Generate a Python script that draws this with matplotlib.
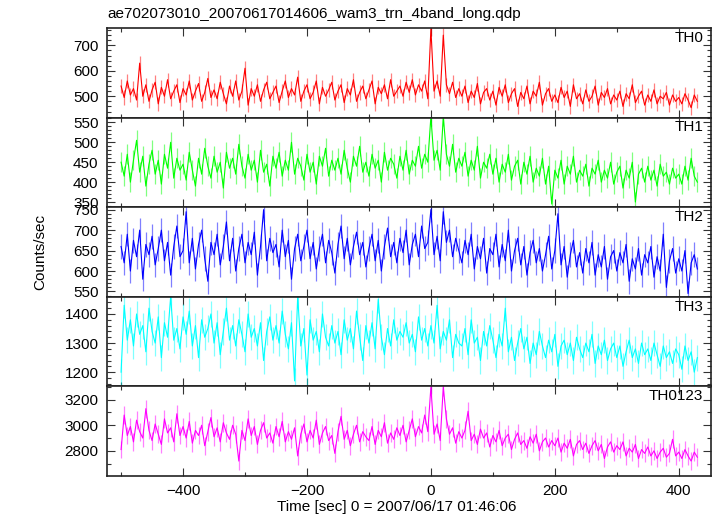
import numpy as np
import matplotlib
matplotlib.use('Agg')
import matplotlib.pyplot as plt
from matplotlib.ticker import MultipleLocator

plt.rcParams['font.family'] = ['Liberation Sans', 'DejaVu Sans']
plt.rcParams['font.size'] = 11

# bin centres (5 s bins), seconds from 2007/06/17 01:46:06
t_start, t_bin = -500, 5

th0 = [540, 495, 560, 505, 530, 485, 630, 500, 545, 480,
       525, 555, 470, 535, 500, 565, 490, 520, 545, 475,
       530, 505, 560, 485, 520, 550, 480, 515, 570, 495,
       525, 490, 555, 510, 470, 540, 500, 560, 485, 520,
       610, 465, 530, 500, 545, 480, 525, 555, 490, 515,
       540, 475, 520, 560, 495, 530, 505, 575, 480, 520,
       545, 490, 515, 560, 470, 535, 500, 525, 555, 485,
       520, 545, 475, 530, 505, 565, 480, 515, 540, 490,
       525, 560, 470, 535, 510, 545, 490, 565, 500, 520,
       540, 500, 555, 515, 565, 505, 545, 520, 560, 490,
       765, 520, 560, 500, 740, 545, 510, 555, 495, 530,
       500, 540, 475, 520, 495, 550, 470, 515, 530, 485,
       520, 465, 535, 500, 545, 475, 510, 530, 460, 515,
       490, 540, 470, 520, 500, 555, 465, 510, 530, 480,
       505, 475, 535, 495, 520, 460, 545, 490, 510, 470,
       525, 480, 500, 540, 465, 515, 495, 530, 470, 505,
       485, 520, 460, 510, 490, 545, 475, 500, 520, 465,
       505, 480, 525, 470, 500, 490, 515, 465, 505, 480,
       495, 470, 510, 485, 455, 505, 480]

th1 = [450, 415, 470, 400, 455, 505, 425, 465, 390, 445,
       480, 420, 455, 395, 470, 435, 500, 410, 460, 430,
       445, 405, 475, 430, 390, 460, 420, 485, 440, 410,
       465, 425, 450, 385, 475, 435, 460, 420, 495, 440,
       410, 470, 430, 455, 400, 480, 425, 445, 390, 465,
       435, 475, 415, 455, 430, 500, 420, 460, 440, 405,
       470, 425, 450, 395, 465, 440, 485, 415, 455, 430,
       460, 420, 480, 435, 400, 465, 440, 490, 425, 450,
       415, 470, 435, 455, 400, 475, 430, 460, 445, 410,
       465, 430, 480, 420, 455, 440, 490, 435, 470, 450,
       565, 455, 480, 430, 565, 470, 440, 495, 425, 460,
       440, 475, 415, 455, 430, 490, 410, 450, 435, 470,
       420, 460, 400, 445, 425, 470, 405, 440, 455, 395,
       450, 420, 465, 400, 435, 415, 460, 395, 440, 345,
       430, 410, 455, 395, 440, 420, 465, 400, 430, 415,
       445, 390, 435, 420, 455, 400, 430, 410, 450, 395,
       425, 440, 385, 430, 410, 450, 350, 420, 435, 400,
       440, 405, 430, 390, 445, 415, 425, 395, 435, 410,
       420, 395, 440, 405, 460, 415, 400]

th2 = [660, 620, 690, 600, 675, 635, 700, 580, 665, 640,
       685, 615, 655, 700, 625, 670, 590, 660, 710, 635,
       650, 745, 620, 680, 605, 665, 700, 630, 575, 670,
       640, 690, 615, 660, 720, 625, 680, 600, 655, 690,
       620, 670, 640, 695, 590, 660, 750, 625, 680, 645,
       665, 610, 700, 635, 675, 580, 655, 690, 625, 660,
       700, 630, 670, 605, 655, 690, 620, 675, 645, 595,
       665, 710, 630, 680, 615, 660, 695, 640, 670, 610,
       655, 690, 625, 675, 600, 660, 705, 635, 670, 620,
       680, 645, 700, 615, 665, 690, 635, 710, 655, 670,
       750, 640, 685, 625, 745, 670, 700, 635, 680, 650,
       620, 675, 640, 690, 605, 660, 630, 680, 595, 655,
       640, 690, 610, 665, 625, 700, 600, 650, 680, 615,
       660, 590, 645, 675, 620, 655, 600, 640, 685, 605,
       650, 740, 615, 660, 585, 640, 675, 610, 645, 595,
       655, 620, 670, 590, 640, 610, 660, 580, 635, 650,
       600, 645, 620, 665, 575, 630, 605, 655, 590, 640,
       620, 660, 585, 635, 600, 690, 560, 625, 655, 595,
       630, 600, 650, 545, 620, 640, 605]

th3 = [1200, 1430, 1310, 1380, 1290, 1400, 1330, 1360, 1270, 1420,
       1340, 1300, 1390, 1250, 1370, 1320, 1460, 1310, 1350, 1280,
       1390, 1330, 1410, 1290, 1360, 1250, 1380, 1320, 1350, 1400,
       1300, 1370, 1260, 1340, 1420, 1310, 1360, 1290, 1380, 1330,
       1270, 1400, 1320, 1350, 1290, 1370, 1240, 1340, 1390, 1310,
       1360, 1300, 1410, 1330, 1280, 1370, 1170, 1460, 1290, 1350,
       1190, 1380, 1310, 1340, 1270, 1400, 1320, 1290, 1360, 1300,
       1340, 1260, 1380, 1310, 1350, 1280, 1410, 1320, 1240, 1360,
       1300, 1370, 1280, 1450, 1320, 1260, 1350, 1290, 1380, 1310,
       1340, 1320, 1370, 1300, 1330, 1270, 1390, 1310, 1350, 1290,
       1360, 1300, 1430, 1280, 1340, 1310, 1380, 1250, 1330, 1300,
       1290, 1350, 1260, 1380, 1300, 1320, 1240, 1340, 1290, 1360,
       1310, 1250, 1330, 1290, 1420, 1270, 1320, 1240, 1300, 1350,
       1280, 1320, 1230, 1300, 1260, 1340, 1290, 1250, 1310, 1270,
       1330, 1220, 1290, 1310, 1260, 1300, 1240, 1320, 1280, 1250,
       1300, 1270, 1330, 1230, 1290, 1260, 1310, 1240, 1280, 1300,
       1250, 1290, 1220, 1270, 1310, 1250, 1280, 1230, 1300, 1260,
       1280, 1240, 1300, 1260, 1220, 1290, 1250, 1270, 1230, 1280,
       1260, 1210, 1290, 1240, 1270, 1200, 1250]

th0123 = [2810, 3080, 2920, 2990, 2870, 3040, 2950, 2900, 3130, 2960,
          2880, 3010, 2930, 2850, 3050, 2940, 2980, 2870, 3090, 2920,
          2990, 2900, 3030, 2860, 2960, 2920, 3000, 2840, 2950, 3060,
          2910, 2980, 2870, 3020, 2940, 2890, 3000, 2930, 2720, 2960,
          2880, 3050, 2920, 2990, 2850, 2960, 3020, 2900, 2940, 2860,
          2990, 2910, 3030, 2870, 2950, 2890, 2980, 2760, 2930, 3010,
          2870, 2960, 2900, 3040, 2850, 2940, 2990, 2880, 2920, 2780,
          2950, 3070, 2890, 2960, 2840, 2930, 3000, 2870, 2950, 2910,
          2880, 2990, 2850, 2960, 2910, 3020, 2860, 2940, 2890, 2980,
          2920, 3000, 2870, 2960, 3050, 2910, 2990, 2940, 3080, 2950,
          3300, 2930, 3010, 2880, 3300, 3050, 2930, 2980, 2860, 2950,
          2900, 2960, 3110, 2880, 2930, 2850, 2970, 2900, 2940, 2830,
          2920, 2870, 2960, 2840, 2900, 2930, 2810, 2890, 2940, 2850,
          2880, 2820, 2910, 2860, 2930, 2800, 2870, 2900, 2830, 2880,
          2840, 2900, 2790, 2860, 2820, 2890, 2760, 2850, 2880, 2810,
          2860, 2780, 2840, 2880, 2800, 2850, 2740, 2830, 2870, 2790,
          2840, 2810, 2870, 2760, 2820, 2790, 2850, 2740, 2810, 2780,
          2830, 2760, 2800, 2740, 2790, 2820, 2750, 2780, 2890, 2760,
          2790, 2740, 2810, 2760, 2720, 2790, 2750]

series = [th0, th1, th2, th3, th0123]
names = ['TH0', 'TH1', 'TH2', 'TH3', 'TH0123']
errs = [28, 25, 30, 45, 70]      # typical 1-sigma error per bin
colors = ['#ff0000', '#00ff00', '#0000ff', '#00ffff', '#ff00ff']
ylims = [(416, 768), (337, 562), (537, 756), (1151, 1459), (2603, 3304)]
majors = [100, 50, 50, 100, 200]
minors = [20, 10, 10, 20, 100]

fig, axes = plt.subplots(5, 1, sharex=True, figsize=(7.17, 5.16), dpi=100)
fig.subplots_adjust(left=0.149, right=0.9916, top=0.9457, bottom=0.0775, hspace=0)

for i, ax in enumerate(axes):
    y = np.array(series[i], dtype=float)
    t = t_start + t_bin * np.arange(len(y))
    ax.errorbar(t, y, yerr=errs[i], fmt='none', ecolor=colors[i], alpha=0.5, elinewidth=0.9)
    ax.plot(t, y, color=colors[i], lw=0.8)
    ax.set_ylim(*ylims[i])
    ax.set_xlim(-523, 452)
    ax.yaxis.set_major_locator(MultipleLocator(majors[i]))
    ax.yaxis.set_minor_locator(MultipleLocator(minors[i]))
    ax.xaxis.set_major_locator(MultipleLocator(200))
    ax.xaxis.set_minor_locator(MultipleLocator(100))
    ax.tick_params(which='both', direction='in', top=True, right=True, width=0.8, color='#333333')
    ax.tick_params(which='major', length=6, pad=6, labelsize=11)
    ax.tick_params(which='minor', length=3)
    for s in ax.spines.values():
        s.set_linewidth(1.2)
        s.set_color('#222222')
    ax.text(0.987, 0.97, names[i], transform=ax.transAxes, ha='right', va='top', fontsize=11)

fig.text(107 / 717, 1 - 14 / 516, 'ae702073010_20070617014606_wam3_trn_4band_long.qdp',
         ha='left', va='center', fontsize=11)
fig.text(40 / 717, 1 - 252 / 516, 'Counts/sec', rotation=90, ha='center', va='center', fontsize=11)
fig.text(397 / 717, 1 - 507 / 516, 'Time [sec] 0 = 2007/06/17 01:46:06', ha='center', va='center', fontsize=11)

fig.savefig('out.png', dpi=100)
